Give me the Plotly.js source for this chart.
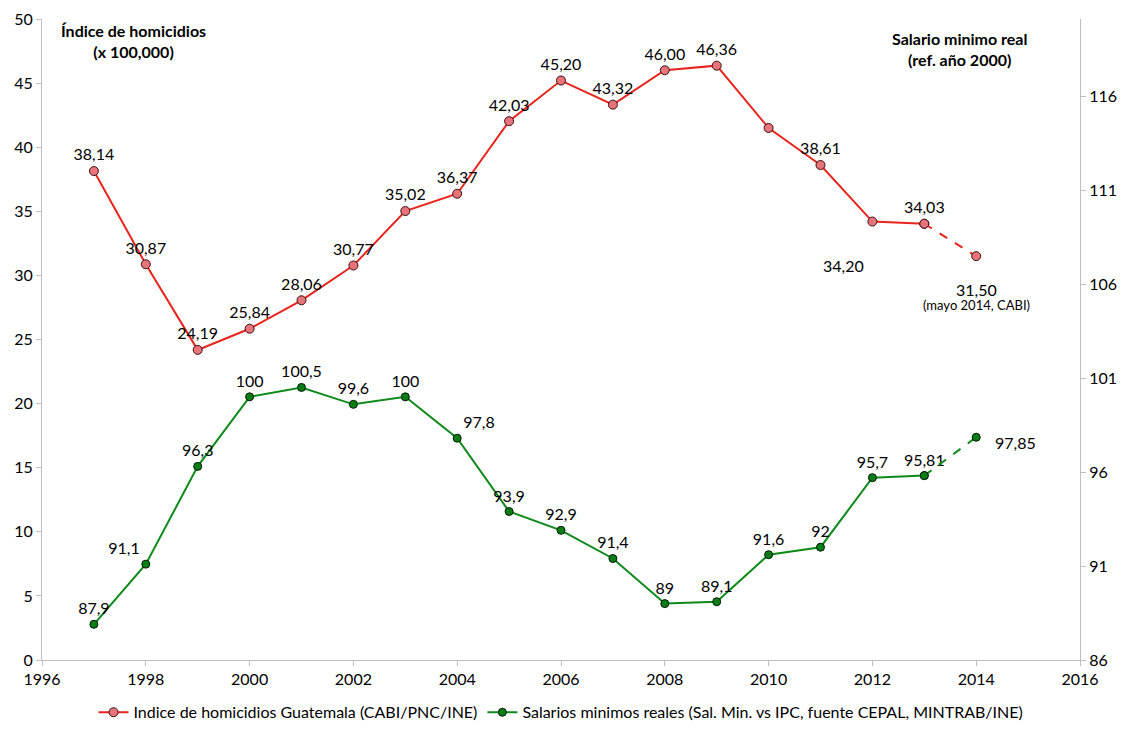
<!DOCTYPE html>
<html>
<head>
<meta charset="utf-8">
<script src="https://cdn.plot.ly/plotly-3.0.1.min.js"></script>
<style>html,body{margin:0;padding:0;background:#fff}#chart{width:1135px;height:733px}</style>
</head>
<body>
<div id="chart"></div>
<script>
const years = [1997,1998,1999,2000,2001,2002,2003,2004,2005,2006,2007,2008,2009,2010,2011,2012,2013];
const homicidios = [38.14,30.87,24.19,25.84,28.06,30.77,35.02,36.37,42.03,45.20,43.32,46.00,46.36,41.5,38.61,34.20,34.03];
const homicidiosLabels = ["38,14","30,87","24,19","25,84","28,06","30,77","35,02","36,37","42,03","45,20","43,32","46,00","46,36","","38,61","","34,03"];
const salarios = [87.9,91.1,96.3,100,100.5,99.6,100,97.8,93.9,92.9,91.4,89,89.1,91.6,92,95.7,95.81];
const salariosLabels = ["87,9","91,1","96,3","100","100,5","99,6","100","97,8","93,9","92,9","91,4","89","89,1","91,6","92","95,7","95,81"];
const salariosPos = ["top center","top left","top center","top center","top center","top center","top center","top right","top center","top center","top center","top center","top center","top center","top center","top center","top center"];
const projYears = [2013,2014];
const homicidiosProj = [34.03,31.50];
const salariosProj = [95.81,97.85];

const font = "Lato, 'Open Sans', sans-serif";
const red = "#e8241c", pink = "#e8737a", green = "#0d8a1a", dgreen = "#0a7d14";
const tf = {family: font, size: 16, color: "#000"};

const traces = [
  {x: years, y: homicidios, type: "scatter", mode: "lines+markers+text",
   name: "Indice de homicidios Guatemala (CABI/PNC/INE)",
   line: {color: red, width: 2},
   marker: {color: pink, size: 9, line: {color: "#3a1010", width: 1}},
   text: homicidiosLabels, textposition: "top center",
   textfont: tf, cliponaxis: false},
  {x: projYears, y: homicidiosProj, type: "scatter", mode: "lines+markers", showlegend: false,
   line: {color: red, width: 2, dash: "dash"},
   marker: {color: pink, size: 9, line: {color: "#3a1010", width: 1}}, cliponaxis: false},
  {x: years, y: salarios, type: "scatter", mode: "lines+markers+text", yaxis: "y2",
   name: "Salarios minimos reales (Sal. Min. vs IPC, fuente CEPAL, MINTRAB/INE)",
   line: {color: green, width: 2},
   marker: {color: dgreen, size: 8, line: {color: "#021a04", width: 1}},
   text: salariosLabels, textposition: salariosPos,
   textfont: tf, cliponaxis: false},
  {x: projYears, y: salariosProj, type: "scatter", mode: "lines+markers", yaxis: "y2", showlegend: false,
   line: {color: green, width: 2, dash: "dash"},
   marker: {color: dgreen, size: 8, line: {color: "#021a04", width: 1}}, cliponaxis: false}
];

const axisCommon = {showgrid: false, zeroline: false, showline: true, linecolor: "#bfbfbf", linewidth: 1,
  ticks: "outside", ticklen: 5, tickcolor: "#bfbfbf", tickfont: {family: font, size: 16, color: "#000"}};

const layout = {
  width: 1135, height: 733,
  margin: {l: 42, r: 55, t: 19, b: 73},
  paper_bgcolor: "#fff", plot_bgcolor: "#fff",
  showlegend: true,
  legend: {orientation: "h", x: 0.5, xanchor: "center", xref: "paper", yref: "container", y: 0.005, yanchor: "bottom",
    font: {family: font, size: 16, color: "#000"}},
  xaxis: Object.assign({}, axisCommon, {range: [1996, 2016], tickvals: [1996,1998,2000,2002,2004,2006,2008,2010,2012,2014,2016]}),
  yaxis: Object.assign({}, axisCommon, {range: [0, 50], tickvals: [0,5,10,15,20,25,30,35,40,45,50]}),
  yaxis2: Object.assign({}, axisCommon, {range: [86, 120.1], overlaying: "y", side: "right", tickvals: [86,91,96,101,106,111,116]}),
  annotations: [
    {xref: "paper", yref: "paper", x: 0.088, xanchor: "center", y: 1.0, yanchor: "top", showarrow: false, align: "center",
     text: "<b>Índice de homicidios<br>(x 100,000)</b>", font: {family: font, size: 16, color: "#000"}},
    {xref: "paper", yref: "paper", x: 0.884, xanchor: "center", y: 0.987, yanchor: "top", showarrow: false, align: "center",
     text: "<b>Salario minimo real<br>(ref. año 2000)</b>", font: {family: font, size: 16, color: "#000"}},
    {x: 2012, y: 34.20, xref: "x", yref: "y", xshift: -29, yshift: -44, showarrow: false,
     text: "34,20", font: tf},
    {x: 2014, y: 31.5, xref: "x", yref: "y", yshift: -33, showarrow: false,
     text: "31,50", font: tf},
    {x: 2014, y: 31.5, xref: "x", yref: "y", yshift: -49, showarrow: false,
     text: "(mayo 2014, CABI)", font: {family: font, size: 13, color: "#000"}},
    {x: 2014, y: 97.85, xref: "x", yref: "y2", xshift: 17, xanchor: "left", yshift: -5, showarrow: false,
     text: "97,85", font: tf}
  ]
};

Plotly.newPlot("chart", traces, layout, {displayModeBar: false});
</script>
</body>
</html>
